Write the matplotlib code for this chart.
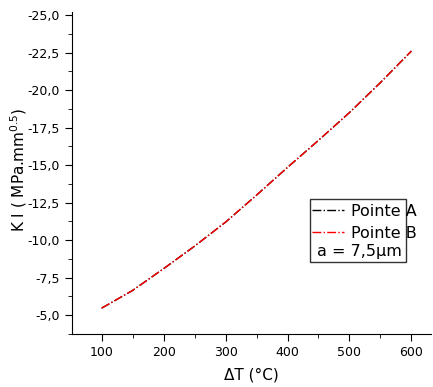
import matplotlib
matplotlib.use("Agg")
import matplotlib.pyplot as plt
from matplotlib.lines import Line2D
from matplotlib.patches import Rectangle
from matplotlib.ticker import MultipleLocator, FuncFormatter

# data
dT = [100, 150, 200, 250, 300, 350, 400, 450, 500, 550, 600]
kA = [-5.47, -6.65, -8.1, -9.6, -11.2, -13.0, -14.85, -16.65, -18.5, -20.5, -22.6]
kB = [-5.47, -6.65, -8.1, -9.6, -11.2, -13.0, -14.85, -16.65, -18.5, -20.5, -22.6]
labels = ["Pointe A", "Pointe B"]
note = "a = 7,5µm"

plt.rcParams["font.family"] = "DejaVu Sans"

fig = plt.figure(figsize=(4.33, 3.87), dpi=100)
ax = fig.add_axes([0.166, 0.137, 0.83, 0.832])

ax.plot(dT, kA, color="black", linestyle="-.", linewidth=1)
ax.plot(dT, kB, color="red", linestyle="-.", linewidth=1)

ax.set_xlim(52, 632)
ax.set_ylim(-3.75, -25.2)

ax.xaxis.set_major_locator(MultipleLocator(100))
ax.xaxis.set_minor_locator(MultipleLocator(50))
ax.yaxis.set_major_locator(MultipleLocator(2.5))
ax.yaxis.set_minor_locator(MultipleLocator(1.25))
ax.yaxis.set_major_formatter(FuncFormatter(lambda v, p: ("%.1f" % v).replace(".", ",")))

ax.spines["top"].set_visible(False)
ax.spines["right"].set_visible(False)
ax.tick_params(which="major", length=5, labelsize=9, direction="out")
ax.tick_params(which="minor", length=3, direction="out")

ax.set_xlabel("ΔT (°C)", fontsize=11, labelpad=6)
ax.set_ylabel("K I ( MPa.mm$^{0.5}$)", fontsize=11)
ax.yaxis.set_label_coords(-0.12, 0.51)

# legend box drawn by hand, text runs a bit past the frame like the original
ax.add_patch(Rectangle((0.662, 0.224), 0.267, 0.195, transform=ax.transAxes,
                       facecolor="white", edgecolor="#333333", linewidth=1, zorder=5))
handles = [
    Line2D([], [], color="black", linestyle="-.", linewidth=1),
    Line2D([], [], color="red", linestyle="-.", linewidth=1),
]
leg = ax.legend(handles, labels, loc="upper left",
                bbox_to_anchor=(0.66, 0.415), fontsize=11.5, frameon=False,
                handlelength=2.0, handletextpad=0.45, borderpad=0.2,
                labelspacing=0.45, borderaxespad=0)
leg.set_zorder(6)
ax.text(0.80, 0.255, note, transform=ax.transAxes, fontsize=11.5,
        ha="center", va="center", zorder=6)

fig.savefig("out.png", dpi=100)
